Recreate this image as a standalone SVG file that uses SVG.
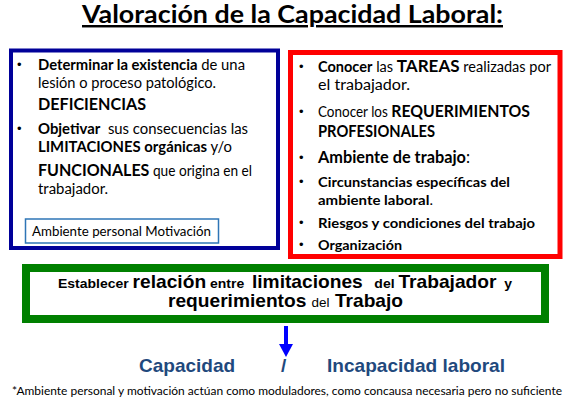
<svg xmlns="http://www.w3.org/2000/svg" width="568" height="404" viewBox="0 0 568 404">
<defs>
<style>
.c{font-family:Lato,"Liberation Sans",sans-serif;fill:#000}
.b{font-weight:bold}
.n{font-size:14.5px}
.L{font-size:17px}
.s{font-size:13.5px}
.a{font-family:"Liberation Sans",Arial,sans-serif;font-weight:bold;fill:#000}
.cap{font-family:"Liberation Sans",Arial,sans-serif;font-weight:bold;font-size:19px;fill:#1F497D}
.bul{font-family:"Liberation Sans",Arial,sans-serif;font-size:13px;fill:#000}
</style>
</defs>
<rect width="568" height="404" fill="#fff"/>
<g id="title">
<text class="c b" x="82" y="23" font-size="24.5" textLength="421" lengthAdjust="spacingAndGlyphs" text-decoration="underline">Valoración de la Capacidad Laboral:</text>
</g>
<g id="deficiencias">
<rect x="11" y="50.5" width="267" height="197.5" fill="#fff" stroke="#000099" stroke-width="4"/>
<text class="bul" x="17" y="69">•</text>
<text class="c n" x="38" y="70" textLength="207" lengthAdjust="spacingAndGlyphs"><tspan class="b">Determinar la existencia</tspan> de una</text>
<text class="c n" x="38" y="88" textLength="178" lengthAdjust="spacingAndGlyphs">lesión o proceso patológico.</text>
<text class="c b L" x="38" y="110" textLength="108" lengthAdjust="spacingAndGlyphs">DEFICIENCIAS</text>
<text class="bul" x="17" y="133">•</text>
<text class="c n" x="38" y="134" textLength="210" lengthAdjust="spacingAndGlyphs"><tspan class="b">Objetivar</tspan>&#160; sus consecuencias las</text>
<text class="c n" x="38" y="152" textLength="194" lengthAdjust="spacingAndGlyphs"><tspan class="b">LIMITACIONES orgánicas</tspan> y/o</text>
<text class="c n" x="38" y="176" textLength="214" lengthAdjust="spacingAndGlyphs"><tspan class="b L">FUNCIONALES</tspan> que origina en el</text>
<text class="c n" x="38" y="194" textLength="70" lengthAdjust="spacingAndGlyphs">trabajador.</text>
</g>
<g id="ambiente-personal">
<rect x="25.5" y="219" width="193" height="24" fill="#fff" stroke="#2E75B6" stroke-width="1.5"/>
<text class="c" x="32" y="236" font-size="13" textLength="179" lengthAdjust="spacingAndGlyphs">Ambiente personal Motivación</text>
</g>
<g id="requerimientos">
<rect x="290.5" y="52.5" width="269.5" height="204" fill="#fff" stroke="#FF0000" stroke-width="5"/>
<text class="bul" x="299" y="71">•</text>
<text class="c n" x="318" y="72" textLength="233" lengthAdjust="spacingAndGlyphs"><tspan class="b">Conocer</tspan> las <tspan class="b L">TAREAS</tspan> realizadas por</text>
<text class="c n" x="318" y="90" textLength="92" lengthAdjust="spacingAndGlyphs">el trabajador.</text>
<text class="bul" x="299" y="116">•</text>
<text class="c n" x="318" y="117" textLength="212" lengthAdjust="spacingAndGlyphs">Conocer los <tspan class="b L">REQUERIMIENTOS</tspan></text>
<text class="c b L" x="318" y="137" textLength="117" lengthAdjust="spacingAndGlyphs">PROFESIONALES</text>
<text class="bul" x="299" y="162">•</text>
<text class="c" x="318" y="163" font-size="17" textLength="152" lengthAdjust="spacingAndGlyphs"><tspan class="b">Ambiente de trabajo</tspan>:</text>
<text class="bul" x="299" y="186">•</text>
<text class="c b s" x="318" y="187" textLength="192" lengthAdjust="spacingAndGlyphs">Circunstancias específicas del</text>
<text class="c s" x="318" y="205" textLength="115" lengthAdjust="spacingAndGlyphs"><tspan class="b">ambiente laboral</tspan>.</text>
<text class="bul" x="299" y="227">•</text>
<text class="c b s" x="318" y="228" textLength="217" lengthAdjust="spacingAndGlyphs">Riesgos y condiciones del trabajo</text>
<text class="bul" x="299" y="249">•</text>
<text class="c b s" x="318" y="250" textLength="84" lengthAdjust="spacingAndGlyphs">Organización</text>
</g>
<g id="relacion">
<rect x="26" y="268" width="519" height="51" fill="#fff" stroke="#008000" stroke-width="8"/>
<text class="a" x="58" y="288" font-size="13.5" textLength="454" lengthAdjust="spacingAndGlyphs">Establecer <tspan font-size="18.5">relación</tspan> entre&#160; <tspan font-size="18.5">limitaciones</tspan>&#160;&#160; del <tspan font-size="18.5">Trabajador</tspan>&#160; y</text>
<text class="a" x="168" y="307" font-size="18.5" textLength="235" lengthAdjust="spacingAndGlyphs">requerimientos <tspan font-size="13" font-weight="normal">del</tspan> Trabajo</text>
</g>
<g id="connectors">
<line x1="286" y1="326" x2="286" y2="346" stroke="#0000FF" stroke-width="4"/>
<polygon points="279,344 293,344 286,357" fill="#0000FF"/>
</g>
<g id="resultado">
<text class="cap" x="139" y="372">Capacidad</text>
<text class="cap" x="281" y="372" font-weight="normal">/</text>
<text class="cap" x="327" y="372" textLength="178" lengthAdjust="spacingAndGlyphs">Incapacidad laboral</text>
</g>
<g id="nota">
<text class="c" x="12" y="395" font-size="12" textLength="550" lengthAdjust="spacingAndGlyphs">*Ambiente personal y motivación actúan como moduladores, como concausa necesaria pero no suficiente</text>
</g>
</svg>
